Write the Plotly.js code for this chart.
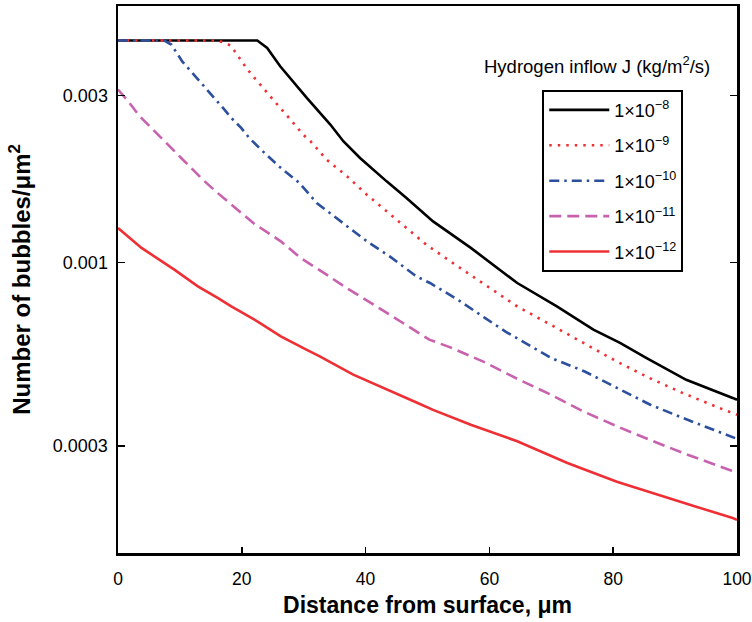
<!DOCTYPE html>
<html>
<head>
<meta charset="utf-8">
<script src="https://cdn.plot.ly/plotly-3.0.1.min.js"></script>
<style>html,body{margin:0;padding:0;background:#fff;}#chart{width:752px;height:622px;}</style>
</head>
<body>
<div id="chart"></div>
<script>
// Hydrogen inflow J = 1e-8
const x_j8 = [0, 22.5, 24.1, 26.2, 30.5, 34.3, 36.4, 39.1, 43.4, 46.6, 50.9, 55.0, 57.0, 64.5, 70.9, 76.8, 81.1, 85.4, 91.8, 99.3, 100];
const y_j8 = [0.004308, 0.004308, 0.004106, 0.003638, 0.002955, 0.002480, 0.002222, 0.001991, 0.001707, 0.001531, 0.001312, 0.001163, 0.001102, 0.000875, 0.000750, 0.000644, 0.000590, 0.000534, 0.000463, 0.000411, 0.000406];
// J = 1e-9
const x_j9 = [0, 15.9, 17.1, 18.2, 19.05, 19.85, 20.66, 21.6, 22.5, 24.3, 26.2, 28.1, 29.9, 31.1, 33.7, 37.0, 40.2, 43.4, 46.6, 49.8, 53.7, 59.2, 64.5, 69.9, 75.2, 80.6, 85.9, 91.3, 97.1, 100];
const y_j9 = [0.004308, 0.004308, 0.004259, 0.004169, 0.003973, 0.003784, 0.003614, 0.003444, 0.003296, 0.003020, 0.002767, 0.002534, 0.002322, 0.002222, 0.001969, 0.001765, 0.001564, 0.001402, 0.001256, 0.001126, 0.001009, 0.000865, 0.000750, 0.000665, 0.000590, 0.000522, 0.000468, 0.000424, 0.000385, 0.000368];
// J = 1e-10
const x_j10 = [0, 7.5, 8.6, 9.15, 10.4, 13.9, 15.6, 17.2, 18.3, 19.9, 21.2, 23.1, 26.0, 29.3, 32.1, 35.9, 40.2, 43.9, 48.2, 50.4, 54.9, 59.2, 62.6, 70.0, 75.4, 80.6, 86.0, 91.3, 98.8, 100];
const y_j10 = [0.004308, 0.004308, 0.004197, 0.004061, 0.003752, 0.003190, 0.002955, 0.002735, 0.002590, 0.002426, 0.002271, 0.002103, 0.001884, 0.001690, 0.001481, 0.001312, 0.001151, 0.001042, 0.000914, 0.000875, 0.000784, 0.000697, 0.000636, 0.000534, 0.000489, 0.000439, 0.000393, 0.000360, 0.000319, 0.000314];
// J = 1e-11
const x_j11 = [0, 1.65, 3.5, 4.85, 7.55, 10.2, 13.7, 16.1, 19.3, 22.0, 26.3, 29.5, 33.7, 36.9, 41.3, 45.5, 50.3, 53.8, 59.2, 64.5, 69.9, 75.2, 80.6, 85.9, 91.3, 98.8, 100];
const y_j11 = [0.003121, 0.002889, 0.002618, 0.002480, 0.002222, 0.001991, 0.001726, 0.001581, 0.001417, 0.001292, 0.001151, 0.001031, 0.000924, 0.000847, 0.000759, 0.000680, 0.000603, 0.000572, 0.000520, 0.000466, 0.000420, 0.000376, 0.000341, 0.000312, 0.000286, 0.000256, 0.000251];
// J = 1e-12
const x_j12 = [0, 3.8, 9.1, 12.9, 16.1, 18.3, 22.5, 26.3, 30.5, 32.6, 38.0, 45.0, 48.5, 50.9, 54.9, 57.1, 64.5, 72.6, 80.6, 91.3, 93.4, 99.3, 100];
const y_j12 = [0.001256, 0.001102, 0.000955, 0.000856, 0.000793, 0.000750, 0.000680, 0.000616, 0.000564, 0.000540, 0.000479, 0.000424, 0.000397, 0.000380, 0.000356, 0.000344, 0.000309, 0.000268, 0.000237, 0.000206, 0.000201, 0.0001865, 0.0001844];

const seriesNames = ['1×10<sup>−8</sup>', '1×10<sup>−9</sup>', '1×10<sup>−10</sup>', '1×10<sup>−11</sup>', '1×10<sup>−12</sup>'];
const yTickVals = [0.0003, 0.001, 0.003];
const yTickText = ['0.0003', '0.001', '0.003'];
const xTickVals = [0, 20, 40, 60, 80, 100];

const FONT = 'Liberation Sans, Arial, sans-serif';
const styles = [
  {color: '#000000', width: 2.6, dash: 'solid'},
  {color: '#ee3035', width: 2.6, dash: '2.5px,6px'},
  {color: '#2c4f9e', width: 2.6, dash: '10px,5px,2.5px,5px'},
  {color: '#c862ae', width: 2.6, dash: '12px,6px'},
  {color: '#ee3035', width: 2.6, dash: 'solid'}
];
const xs = [x_j8, x_j9, x_j10, x_j11, x_j12];
const ys = [y_j8, y_j9, y_j10, y_j11, y_j12];

const data = xs.map((x, i) => ({
  type: 'scatter', mode: 'lines', x: x, y: ys[i], name: seriesNames[i],
  legendgroup: 'g' + i,
  line: {color: styles[i].color, width: styles[i].width, dash: styles[i].dash}
}));

const layout = {
  width: 752, height: 622,
  margin: {l: 118, r: 15, t: 6, b: 69},
  paper_bgcolor: '#ffffff', plot_bgcolor: '#ffffff',
  font: {family: FONT, size: 18, color: '#000'},
  showlegend: true,
  legend: {
    x: 0.6854, y: 0.847, xanchor: 'left', yanchor: 'top',
    bordercolor: '#000', borderwidth: 2, bgcolor: '#fff',
    font: {family: FONT, size: 18, color: '#000'},
    tracegroupgap: 9, itemwidth: 60
  },
  xaxis: {
    range: [0, 100], tickvals: xTickVals, ticks: 'inside', ticklen: 6, tickwidth: 1.5, tickcolor: '#000',
    showline: true, linecolor: '#000', linewidth: 2.5, mirror: true, showgrid: false, zeroline: false,
    tickfont: {family: FONT, size: 17.5}, ticklabelstandoff: 8, ticklabeloverflow: 'allow',
    title: {text: '<b>Distance from surface, μm</b>', font: {family: FONT, size: 23}, standoff: 10}
  },
  yaxis: {
    type: 'log', range: [-3.829, -2.267], tickvals: yTickVals, ticktext: yTickText,
    ticks: 'inside', ticklen: 7, tickwidth: 1.5, tickcolor: '#000',
    showline: true, linecolor: '#000', linewidth: 2.5, mirror: 'ticks', showgrid: false, zeroline: false,
    tickfont: {family: FONT, size: 18}, ticklabelstandoff: 4,
    title: {text: '<b>Number of bubbles/μm<sup>2</sup></b>', font: {family: FONT, size: 24}, standoff: 16}
  },
  annotations: [{
    xref: 'paper', yref: 'paper', x: 0.96, y: 0.893, xanchor: 'right', yanchor: 'middle',
    text: 'Hydrogen inflow J (kg/m<sup>2</sup>/s)', showarrow: false,
    font: {family: FONT, size: 18.5, color: '#000'}
  }]
};

Plotly.newPlot('chart', data, layout, {displayModeBar: false, staticPlot: true});
</script>
</body>
</html>
